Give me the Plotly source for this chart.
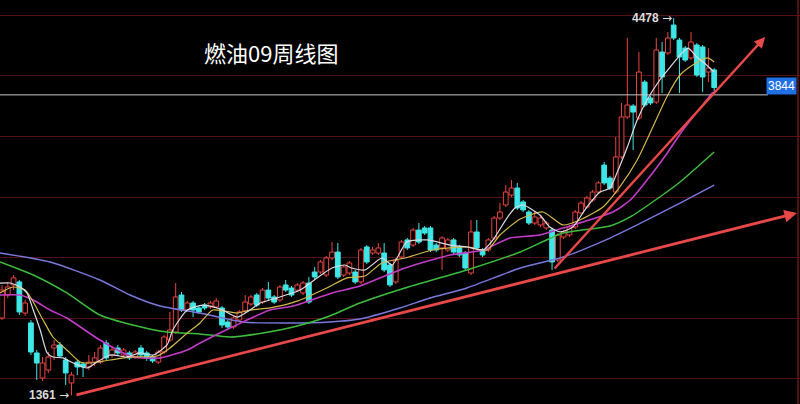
import plotly.graph_objects as go

# Weekly candles, fuel oil 09 contract
opens = [2000, 2190, 2273, 2298, 2041, 1959, 1711, 1504, 1570, 1752,
         1777, 1653, 1463, 1636, 1620, 1595, 1636, 1636, 1793, 1694,
         1752, 1694, 1711, 1678, 1752, 1711, 1678, 1636, 1719, 1818,
         1884, 2190, 2066, 2124, 2083, 2107, 2091, 2091, 2083, 1967,
         1926, 1983, 2058, 2116, 2190, 2132, 2231, 2174, 2149, 2273,
         2248, 2231, 2207, 2289, 2380, 2380, 2355, 2496, 2545, 2355,
         2372, 2380, 2298, 2587, 2537, 2537, 2537, 2438, 2298, 2504,
         2645, 2603, 2727, 2744, 2744, 2603, 2579, 2562, 2645, 2587,
         2537, 2372, 2711, 2562, 2562, 2661, 2826, 2934, 3016, 3074,
         2959, 2876, 2785, 2769, 2744, 2727, 2479, 2669, 2686, 2752,
         2868, 2917, 2975, 3041, 3264, 3157, 3041, 3331, 3661, 3752,
         3653, 3950, 3818, 3785, 4198, 4190, 4421, 4297, 4231, 4149,
         4256, 4240, 4033, 4050]
highs = [2273, 2298, 2355, 2314, 2149, 1983, 1736, 1678, 1719, 1818,
         1802, 1678, 1554, 1653, 1636, 1694, 1719, 1777, 1818, 1760,
         1777, 1752, 1728, 1736, 1777, 1728, 1694, 1736, 1860, 2050,
         2289, 2215, 2141, 2141, 2099, 2124, 2141, 2165, 2099, 1983,
         2017, 2066, 2190, 2190, 2207, 2248, 2298, 2190, 2273, 2314,
         2265, 2289, 2306, 2339, 2422, 2479, 2512, 2628, 2620, 2438,
         2471, 2397, 2579, 2603, 2587, 2620, 2620, 2455, 2496, 2645,
         2661, 2744, 2785, 2760, 2760, 2620, 2678, 2661, 2661, 2603,
         2554, 2810, 2810, 2579, 2661, 2843, 2950, 3099, 3140, 3116,
         2975, 2893, 2884, 2843, 2802, 2744, 2702, 2727, 2769, 2893,
         2967, 3008, 3058, 3132, 3289, 3173, 3496, 3777, 4314, 3768,
         4198, 3967, 3835, 4314, 4281, 4364, 4478, 4314, 4248, 4364,
         4273, 4256, 4231, 4066]
lows = [1983, 2165, 2231, 2025, 2017, 1694, 1488, 1479, 1546, 1653,
        1670, 1446, 1361, 1529, 1512, 1570, 1603, 1620, 1653, 1670,
        1686, 1678, 1653, 1662, 1678, 1645, 1628, 1620, 1703, 1802,
        1868, 2050, 2050, 2008, 2033, 2066, 2075, 2083, 1917, 1901,
        1909, 1967, 2041, 2099, 2091, 2116, 2149, 2116, 2132, 2215,
        2174, 2215, 2190, 2116, 2322, 2364, 2339, 2479, 2322, 2339,
        2355, 2281, 2281, 2446, 2521, 2521, 2380, 2256, 2281, 2488,
        2562, 2587, 2612, 2686, 2545, 2545, 2397, 2545, 2529, 2504,
        2388, 2355, 2562, 2504, 2545, 2645, 2810, 2917, 3000, 2893,
        2876, 2769, 2769, 2752, 2727, 2397, 2463, 2653, 2669, 2736,
        2852, 2901, 2959, 3025, 3099, 3058, 3025, 3314, 3645, 3388,
        3636, 3744, 3760, 3768, 3859, 4174, 4297, 3859, 4116, 4132,
        3992, 3868, 3950, 3868]
closes = [2231, 2256, 2331, 2050, 2124, 1719, 1628, 1628, 1678, 1777,
          1686, 1546, 1529, 1595, 1595, 1636, 1670, 1752, 1670, 1736,
          1711, 1736, 1670, 1719, 1694, 1670, 1645, 1719, 1843, 1901,
          2174, 2066, 2124, 2066, 2050, 2083, 2124, 2141, 1942, 1926,
          2000, 2050, 2132, 2174, 2107, 2231, 2165, 2132, 2256, 2231,
          2190, 2273, 2289, 2132, 2339, 2463, 2496, 2545, 2339, 2422,
          2455, 2298, 2562, 2463, 2562, 2579, 2397, 2273, 2479, 2628,
          2579, 2727, 2628, 2702, 2562, 2562, 2661, 2645, 2545, 2521,
          2413, 2711, 2579, 2521, 2645, 2826, 2876, 3041, 3074, 2909,
          2893, 2785, 2835, 2826, 2785, 2463, 2686, 2711, 2752, 2876,
          2950, 2992, 3041, 3116, 3116, 3074, 3331, 3661, 3760, 3702,
          4033, 3760, 3777, 4215, 3992, 4314, 4314, 4157, 4132, 4281,
          4008, 3992, 4066, 3905]
weeks = list(range(len(opens)))

# Moving averages, sampled along the week axis
ma5_x = [-0.35, 1.4, 3.1, 4.3, 5.4, 6.6, 7.8, 8.8, 10.5, 12.3, 14.7, 16.4, 18.7, 21.6, 23.8,
         26.1, 28.5, 29.5, 32.0, 34.7, 37.7, 40.6, 42.3, 44.6, 48.0, 51.5, 54.4, 57.0, 59.2, 60.4,
         62.7, 65.6, 67.4, 69.9, 73.4, 77.4, 80.3, 83.1, 84.8, 87.2, 88.6, 90.0, 92.9, 94.6, 96.4,
         98.6, 101.0, 103.3, 105.0, 106.2, 108.0, 109.7, 111.4, 113.6, 115.4, 117.1, 118.5, 120.0, 121.1, 123.0]
ma5_y = [2289, 2289, 2256, 2207, 2066, 1901, 1711, 1678, 1670, 1628, 1587, 1636, 1694, 1678, 1711,
         1694, 1777, 1901, 2066, 2107, 2074, 2008, 2050, 2124, 2174, 2231, 2331, 2413, 2438, 2413,
         2397, 2496, 2438, 2628, 2645, 2603, 2587, 2562, 2645, 2826, 2909, 2934, 2851, 2752, 2711,
         2752, 2917, 3041, 3074, 3198, 3413, 3636, 3802, 3967, 4074, 4173, 4231, 4157, 4116, 4033]
ma10_x = [-0.35, 1.9, 4.0, 5.4, 7.1, 8.8, 11.2, 13.5, 15.2, 18.7, 22.6, 26.8, 29.0, 32.0, 34.2,
          36.4, 40.6, 42.8, 46.3, 51.1, 56.1, 59.6, 62.7, 65.6, 69.6, 74.4, 80.3, 83.8, 86.0, 89.5,
          93.4, 96.9, 99.8, 103.8, 106.7, 109.7, 112.4, 114.9, 117.1, 119.3, 121.8, 123.0]
ma10_y = [2207, 2256, 2231, 2132, 1983, 1843, 1736, 1636, 1628, 1653, 1678, 1686, 1752, 1876, 1959,
          2066, 2041, 2066, 2083, 2141, 2248, 2331, 2347, 2455, 2496, 2562, 2587, 2562, 2686, 2818,
          2876, 2769, 2810, 2917, 3083, 3306, 3578, 3835, 4008, 4091, 4149, 4116]
ma20_x = [-0.35, 3.1, 5.4, 8.3, 11.2, 16.9, 22.6, 27.3, 32.0, 34.2, 39.4, 46.3, 50.3, 57.0,
          61.8, 69.6, 77.4, 83.1, 87.7, 92.9, 96.9, 105.5, 108.5, 111.4, 114.9, 117.6, 122.8]
ma20_y = [2190, 2190, 2149, 2066, 2000, 1818, 1678, 1670, 1736, 1793, 1917, 2066, 2099, 2207,
          2264, 2413, 2521, 2562, 2661, 2686, 2744, 2876, 2975, 3140, 3364, 3554, 3868]
ma40_x = [-0.35, 5.4, 11.2, 16.9, 22.6, 28.5, 34.2, 39.4, 45.1, 50.3, 56.6, 61.8, 69.6, 80.3,
          89.5, 96.9, 105.0, 108.5, 113.6, 117.1, 123.0]
ma40_y = [2463, 2355, 2207, 2025, 1942, 1884, 1868, 1843, 1876, 1926, 2017, 2124, 2248, 2397,
          2545, 2702, 2760, 2835, 3000, 3124, 3372]
ma60_x = [-0.35, 8.3, 16.9, 22.1, 27.3, 34.2, 41.6, 49.7, 56.6, 61.8, 68.7, 73.9, 80.3, 89.5,
          96.9, 105.0, 109.7, 117.1, 123.0]
ma60_y = [2537, 2463, 2314, 2190, 2099, 2041, 1967, 1959, 1967, 1992, 2083, 2165, 2248, 2413,
          2504, 2661, 2769, 2950, 3099]

# Hand-drawn trend lines: (week, price) tail -> head
trend_long_x = [12.6, 137.3]
trend_long_y = [1361, 2868]
trend_steep_x = [95.2, 131.8]
trend_steep_y = [2397, 4322]

LAST_PRICE = 3844
LOW_MARK = 1361
HIGH_MARK = 4478
grid_levels = [1500, 2000, 2500, 3000, 3500, 4000, 4500]
title_text = "燃油09周线图"

UP = "#e8443f"
DOWN = "#3fe6e6"

fig = go.Figure()

# Wicks, split above and below the body so hollow bodies stay empty
for colour, is_up in ((UP, True), (DOWN, False)):
    wx, wy = [], []
    for i, o, h, l, c in zip(weeks, opens, highs, lows, closes):
        if (c >= o) != is_up:
            continue
        top, bot = max(o, c), min(o, c)
        wx += [i, i, None, i, i, None]
        wy += [top, h, None, l, bot, None]
    fig.add_trace(go.Scatter(x=wx, y=wy, mode="lines",
                             line=dict(color=colour, width=1),
                             hoverinfo="skip"))

# Bodies: hollow red for up weeks, solid cyan for down weeks
base = [min(o, c) for o, c in zip(opens, closes)]
height = [max(abs(c - o), 4) for o, c in zip(opens, closes)]
fill = ["#000000" if c >= o else DOWN for o, c in zip(opens, closes)]
edge = [UP if c >= o else DOWN for o, c in zip(opens, closes)]
fig.add_trace(go.Bar(x=weeks, y=height, base=base, width=0.82,
                     marker=dict(color=fill, line=dict(color=edge, width=1)),
                     hoverinfo="skip"))

ma_styles = [
    (ma60_x, ma60_y, "#7a78dc", 1.4),
    (ma40_x, ma40_y, "#3cbe3c", 1.5),
    (ma20_x, ma20_y, "#c23cc8", 1.6),
    (ma10_x, ma10_y, "#d4b84a", 1.2),
    (ma5_x, ma5_y, "#dcdce6", 1.2),
]
for xs, ys, colour, w in ma_styles:
    fig.add_trace(go.Scatter(x=xs, y=ys, mode="lines",
                             line=dict(color=colour, width=w, shape="spline", smoothing=0.6),
                             hoverinfo="skip"))

annotations = []
for xs, ys, w in ((trend_long_x, trend_long_y, 2.8), (trend_steep_x, trend_steep_y, 2.4)):
    annotations.append(dict(x=xs[1], y=ys[1], ax=xs[0], ay=ys[0], xref="x", yref="y",
                            axref="x", ayref="y", text="", showarrow=True,
                            arrowhead=2, arrowsize=0.9, arrowwidth=w, arrowcolor="#e84848",
                            standoff=0, startstandoff=0))

low_week = lows.index(LOW_MARK)
high_week = highs.index(HIGH_MARK)
label_font = dict(family="Liberation Sans, Arial", size=12, color="#dcdcdc", weight="bold")
pointer = " <span style='font-family:DejaVu Sans;font-weight:normal'>→</span>"
annotations.append(dict(x=low_week, y=LOW_MARK, xref="x", yref="y", text=f"{LOW_MARK}{pointer}",
                        showarrow=False, xanchor="right", yanchor="middle", xshift=0,
                        font=label_font))
annotations.append(dict(x=high_week, y=HIGH_MARK, xref="x", yref="y", text=f"{HIGH_MARK}{pointer}",
                        showarrow=False, xanchor="right", yanchor="middle", xshift=0,
                        font=label_font))
annotations.append(dict(x=797 / 800, y=LAST_PRICE, xref="paper", yref="y", text=str(LAST_PRICE),
                        showarrow=False, xanchor="right", yanchor="bottom", bgcolor="#1f6fe5",
                        borderpad=1, font=dict(family="Liberation Sans, Arial", size=12, color="#ffffff")))
annotations.append(dict(x=271 / 800, y=1 - 52 / 404, xref="paper", yref="paper", text=title_text,
                        showarrow=False, xanchor="center", yanchor="middle",
                        font=dict(family="Noto Sans CJK SC", size=22, color="#ffffff")))

shapes = [
    dict(type="line", xref="paper", yref="y", x0=0, x1=768 / 800, y0=LAST_PRICE, y1=LAST_PRICE,
         line=dict(color="#c8c8c8", width=1)),
    dict(type="line", xref="paper", yref="paper", x0=798 / 800, x1=798 / 800, y0=0, y1=1,
         line=dict(color="#6e1616", width=1.5)),
]

fig.update_layout(
    width=800, height=404,
    margin=dict(l=0, r=0, t=0, b=0),
    paper_bgcolor="#000000", plot_bgcolor="#000000",
    showlegend=False, barmode="overlay",
    xaxis=dict(range=[-0.345, 137.82], visible=False, fixedrange=True),
    yaxis=dict(range=[1289.3, 4628], tickvals=grid_levels, showticklabels=False,
               showgrid=True, gridcolor="#561212", gridwidth=1, zeroline=False,
               showline=False, fixedrange=True),
    annotations=annotations,
    shapes=shapes,
)

fig.write_html("out.html")
